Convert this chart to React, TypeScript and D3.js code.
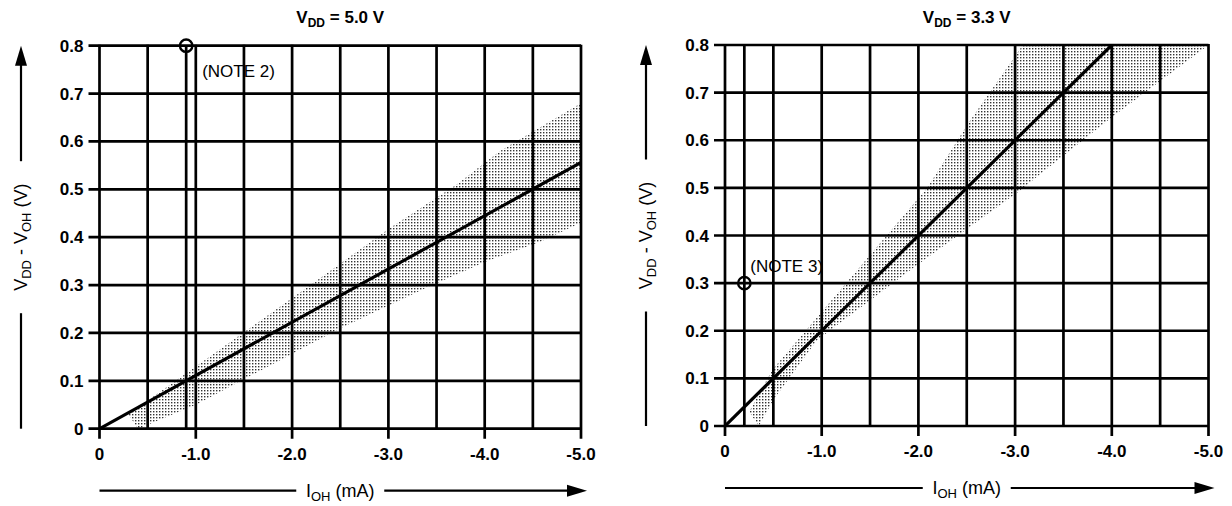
import React from "react";
import * as d3 from "d3";

// ---------- data ----------
const xTickValues = [0, -1, -2, -3, -4, -5];
const xTickLabels = ["0", "-1.0", "-2.0", "-3.0", "-4.0", "-5.0"];
const yTickValues = [0, 0.1, 0.2, 0.3, 0.4, 0.5, 0.6, 0.7, 0.8];
const yTickLabels = ["0", "0.1", "0.2", "0.3", "0.4", "0.5", "0.6", "0.7", "0.8"];
const xGridValues = [0, -0.5, -1, -1.5, -2, -2.5, -3, -3.5, -4, -4.5, -5];

// V_DD = 5.0 V
const line5I = [0, -5.0];
const line5V = [0, 0.556];
const band5UpperI = [-0.3, -1.0, -2.26, -3.02, -3.71, -4.16, -5.0];
const band5UpperV = [0.03, 0.13, 0.31, 0.42, 0.51, 0.58, 0.68];
const band5LowerI = [-0.4, -1.0, -2.5, -3.4, -4.02, -4.57, -5.0];
const band5LowerV = [0.0, 0.05, 0.21, 0.295, 0.35, 0.39, 0.43];
const note5I = -0.9;
const note5V = 0.8;

// V_DD = 3.3 V
const line33I = [0, -4.0];
const line33V = [0, 0.8];
const band33UpperI = [-0.25, -0.49, -0.96, -2.09, -2.53, -3.08, -5.0];
const band33UpperV = [0.03, 0.118, 0.23, 0.5, 0.64, 0.8, 0.8];
const band33LowerI = [-0.35, -0.5, -0.95, -2.0, -3.02, -3.39, -4.01, -5.0];
const band33LowerV = [0.0, 0.055, 0.18, 0.34, 0.49, 0.55, 0.65, 0.8];
const note33I = -0.2;
const note33V = 0.3;

const FONT = "'Liberation Sans', Arial, Helvetica, sans-serif";

type PanelProps = {
  id: string;
  x0: number;
  x1: number;
  y0: number;
  y1: number;
  title: string;
  lineI: number[];
  lineV: number[];
  upI: number[];
  upV: number[];
  loI: number[];
  loV: number[];
  noteI: number;
  noteV: number;
  noteLabel: string;
  noteDx: number;
  noteDy: number;
  yLabelX: number;
};

function Panel(p: PanelProps) {
  const x = d3.scaleLinear().domain([0, -5]).range([p.x0, p.x1]);
  const y = d3.scaleLinear().domain([0, 0.8]).range([p.y0, p.y1]);
  const lineGen = d3
    .line<number>()
    .x((_, i) => x(p.lineI[i]))
    .y((_, i) => y(p.lineV[i]));
  const upper = p.upI.map((v, i) => [x(v), y(p.upV[i])] as [number, number]);
  const lower = p.loI.map((v, i) => [x(v), y(p.loV[i])] as [number, number]);
  const bandPts = upper.concat(lower.slice().reverse());
  const bandPath = d3.line()(bandPts) + "Z";
  const cx = (p.x0 + p.x1) / 2;
  const cy = (p.y0 + p.y1) / 2;
  const sw = 2.7;
  return (
    <g>
      <defs>
        <clipPath id={"clip" + p.id}>
          <rect x={p.x0} y={p.y1} width={p.x1 - p.x0} height={p.y0 - p.y1} />
        </clipPath>
      </defs>
      {/* band */}
      <path d={bandPath} fill="url(#dots)" clipPath={`url(#clip${p.id})`} />
      {/* horizontal grid */}
      {yTickValues.map((v) => (
        <line key={"h" + v} x1={p.x0 - 11} x2={p.x1} y1={y(v)} y2={y(v)} stroke="#000" strokeWidth={sw} />
      ))}
      {/* vertical grid */}
      {xGridValues.map((v) => (
        <line
          key={"v" + v}
          x1={x(v)}
          x2={x(v)}
          y1={p.y1 - 1}
          y2={xTickValues.includes(v) ? p.y0 + 10 : p.y0}
          stroke="#000"
          strokeWidth={sw}
        />
      ))}
      {/* note line */}
      <line x1={x(p.noteI)} x2={x(p.noteI)} y1={p.y1} y2={p.y0} stroke="#000" strokeWidth={sw} />
      <circle cx={x(p.noteI)} cy={y(p.noteV)} r={6.2} fill="none" stroke="#000" strokeWidth={2.4} />
      <text x={x(p.noteI) + p.noteDx} y={y(p.noteV) + p.noteDy} fontFamily={FONT} fontSize={17}>
        {p.noteLabel}
      </text>
      {/* data line */}
      <path d={lineGen(p.lineI) || ""} fill="none" stroke="#000" strokeWidth={3.2} clipPath={`url(#clip${p.id})`} />
      {/* tick labels */}
      {yTickValues.map((v, i) => (
        <text key={"yl" + v} x={p.x0 - 16} y={y(v) + 6} textAnchor="end" fontFamily={FONT} fontSize={17} fontWeight="bold">
          {yTickLabels[i]}
        </text>
      ))}
      {xTickValues.map((v, i) => (
        <text key={"xl" + v} x={x(v)} y={p.y0 + 31} textAnchor="middle" fontFamily={FONT} fontSize={17} fontWeight="bold">
          {xTickLabels[i]}
        </text>
      ))}
      {/* title */}
      <text x={cx} y={23} textAnchor="middle" fontFamily={FONT} fontSize={17} fontWeight="bold">
        V<tspan fontSize={12} dy={4}>DD</tspan>
        <tspan dy={-4}> = {p.title}</tspan>
      </text>
      {/* x axis label with arrow */}
      <line x1={p.x0} x2={cx - 44} y1={p.y0 + 62} y2={p.y0 + 62} stroke="#000" strokeWidth={2.2} />
      <line x1={cx + 44} x2={p.x1 - 8} y1={p.y0 + 62} y2={p.y0 + 62} stroke="#000" strokeWidth={2.2} />
      <path
        d={`M${p.x1 + 6},${p.y0 + 62} L${p.x1 - 14},${p.y0 + 56} L${p.x1 - 14},${p.y0 + 68} Z`}
        fill="#000"
      />
      <text x={cx} y={p.y0 + 68} textAnchor="middle" fontFamily={FONT} fontSize={18}>
        I<tspan fontSize={13} dy={4}>OH</tspan>
        <tspan dy={-4}> (mA)</tspan>
      </text>
      {/* y axis label with arrow */}
      <line x1={p.yLabelX} x2={p.yLabelX} y1={p.y0} y2={cy + 76} stroke="#000" strokeWidth={2.2} />
      <line x1={p.yLabelX} x2={p.yLabelX} y1={cy - 76} y2={p.y1 + 14} stroke="#000" strokeWidth={2.2} />
      <path
        d={`M${p.yLabelX},${p.y1} L${p.yLabelX - 6},${p.y1 + 20} L${p.yLabelX + 6},${p.y1 + 20} Z`}
        fill="#000"
      />
      <text
        transform={`translate(${p.yLabelX + 6},${cy}) rotate(-90)`}
        textAnchor="middle"
        fontFamily={FONT}
        fontSize={18}
      >
        V<tspan fontSize={13} dy={4}>DD</tspan>
        <tspan dy={-4}> - V</tspan>
        <tspan fontSize={13} dy={4}>OH</tspan>
        <tspan dy={-4}> (V)</tspan>
      </text>
    </g>
  );
}

export default function App() {
  return (
    <svg
      width={1232}
      height={506}
      style={{ position: "absolute", left: 0, top: 0, background: "#fff" }}
    >
      <defs>
        <pattern id="dots" width={3} height={3} patternUnits="userSpaceOnUse">
          <rect x={0} y={0} width={1.4} height={1.4} fill="#333" />
        </pattern>
      </defs>
      <rect x={0} y={0} width={1232} height={506} fill="#fff" />
      <Panel
        id="a"
        x0={99.5}
        x1={581}
        y0={428.7}
        y1={45.7}
        title="5.0 V"
        lineI={line5I}
        lineV={line5V}
        upI={band5UpperI}
        upV={band5UpperV}
        loI={band5LowerI}
        loV={band5LowerV}
        noteI={note5I}
        noteV={note5V}
        noteLabel="(NOTE 2)"
        noteDx={16}
        noteDy={31}
        yLabelX={21}
      />
      <Panel
        id="b"
        x0={725}
        x1={1208.5}
        y0={426}
        y1={45}
        title="3.3 V"
        lineI={line33I}
        lineV={line33V}
        upI={band33UpperI}
        upV={band33UpperV}
        loI={band33LowerI}
        loV={band33LowerV}
        noteI={note33I}
        noteV={note33V}
        noteLabel="(NOTE 3)"
        noteDx={6}
        noteDy={-11}
        yLabelX={646}
      />
    </svg>
  );
}
